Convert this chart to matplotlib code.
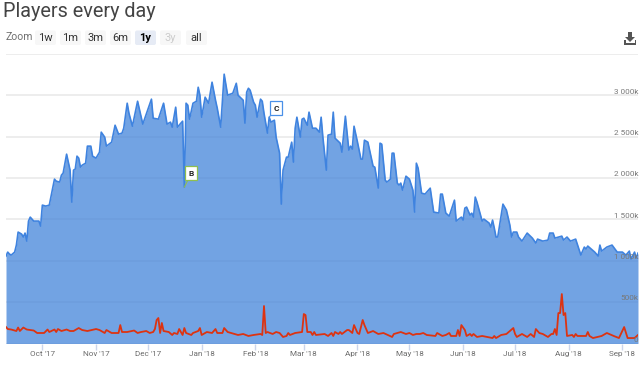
import datetime as dt

import matplotlib
matplotlib.use("Agg")
import matplotlib.pyplot as plt
import matplotlib.dates as mdates
from matplotlib.patches import FancyBboxPatch, Polygon, Rectangle

plt.rcParams["font.family"] = ["Roboto", "DejaVu Sans"]

START = dt.date(2017, 9, 10)

# days since START, players in thousands
players_days = [
    0, 1, 2, 3, 5, 6, 7, 9, 10, 11, 12, 13, 14, 16, 19, 20, 21, 23, 25, 28, 29, 31, 32, 33, 35, 37, 38, 39, 40, 41,
    42, 43, 44, 46, 47, 49, 50, 52, 54, 55, 57, 58, 61, 63, 65, 67, 68, 70, 71, 73, 76, 79, 84, 85, 88, 91, 93, 95, 96, 98,
    99, 102, 103, 104, 105, 106, 108, 110, 111, 112, 113, 115, 117, 119, 121, 122, 124, 126, 128, 131, 133, 134, 137, 138, 139, 140, 141, 143, 144, 145,
    147, 148, 149, 151, 152, 153, 155, 156, 158, 159, 160, 162, 163, 165, 166, 167, 168, 170, 171, 172, 174, 175, 177, 179, 181, 182, 183, 185, 186, 188,
    189, 190, 193, 194, 196, 198, 199, 200, 201, 203, 205, 206, 207, 209, 210, 212, 213, 215, 216, 217, 219, 220, 222, 223, 224, 226, 227, 228, 229, 231,
    233, 235, 236, 237, 238, 240, 242, 245, 247, 250, 251, 252, 254, 256, 259, 260, 263, 264, 265, 266, 268, 269, 270, 271, 272, 275, 276, 279, 280, 281,
    282, 283, 284, 287, 289, 291, 292, 293, 295, 296, 298, 301, 304, 306, 307, 310, 313, 314, 316, 317, 321, 322, 324, 326, 329, 332, 334, 335, 336, 340,
    342, 343, 344, 347, 350, 353, 356, 358, 360, 361, 363, 364, 365,
]
players_k = [
    1057, 1105, 1081, 1069, 1105, 1190, 1347, 1323, 1287, 1335, 1238, 1480, 1528, 1480, 1480, 1419, 1673, 1661, 1673, 1987, 1963, 1951, 2035, 2060, 2289, 2096, 1709, 2096, 2108, 2265,
    2241, 2132, 2156, 2180, 2386, 2386, 2265, 2241, 2313, 2555, 2495, 2386, 2434, 2639, 2531, 2543, 2603, 2905, 2785, 2627, 2929, 2652, 2954, 2724, 2712, 2905, 2652, 2676, 2615, 2857,
    2615, 2688, 1890, 2905, 2881, 2712, 2905, 2929, 3098, 3002, 2736, 2978, 2905, 3159, 2941, 2845, 2615, 3256, 3002, 3026, 3146, 3002, 2941, 2664, 3038, 3086, 3062, 2917, 2881, 2736,
    2954, 2929, 2784, 2543, 2736, 2676, 2700, 2495, 2301, 1685, 2096, 2253, 2253, 2434, 2193, 2603, 2736, 2495, 2712, 2724, 2639, 2797, 2603, 2603, 2555, 2736, 2495, 2096, 2519, 2531,
    2797, 2483, 2422, 2313, 2748, 2338, 2386, 2350, 2627, 2434, 2229, 2229, 2458, 2434, 2338, 2144, 2132, 1879, 2422, 2410, 1975, 1951, 1987, 2301, 2301, 1939, 1915, 1939, 1854, 2023,
    1987, 1854, 1589, 2180, 2120, 1818, 1806, 1878, 1589, 1577, 1806, 1806, 1577, 1540, 1733, 1480, 1528, 1492, 1637, 1649, 1552, 1576, 1528, 1770, 1709, 1480, 1504, 1456, 1407, 1492,
    1395, 1287, 1287, 1685, 1613, 1431, 1287, 1347, 1347, 1287, 1238, 1335, 1274, 1214, 1262, 1238, 1250, 1335, 1335, 1274, 1298, 1250, 1287, 1238, 1262, 1069, 1166, 1142, 1178, 1105,
    1057, 1190, 1117, 1166, 1190, 1105, 1105, 1069, 1117, 1021, 1105, 1033, 1093,
]

new_days = [
    0, 1, 3, 6, 7, 8, 10, 12, 16, 18, 22, 24, 25, 28, 29, 30, 32, 35, 37, 39, 42, 44, 47, 52, 54, 57, 58, 61, 65, 66,
    67, 70, 74, 76, 78, 81, 83, 85, 86, 87, 88, 89, 90, 91, 94, 96, 97, 99, 100, 102, 103, 104, 107, 108, 111, 112, 113, 116, 119, 121,
    122, 125, 126, 128, 130, 134, 137, 140, 143, 147, 148, 149, 150, 151, 154, 156, 158, 160, 162, 163, 164, 167, 171, 172, 173, 174, 176, 177, 178, 179,
    184, 186, 188, 189, 190, 192, 193, 194, 197, 198, 200, 201, 203, 204, 206, 207, 209, 212, 215, 218, 223, 224, 228, 231, 233, 235, 237, 239, 241, 243,
    248, 249, 252, 254, 256, 257, 260, 261, 262, 263, 265, 266, 268, 269, 270, 272, 275, 278, 281, 282, 283, 286, 289, 291, 293, 294, 295, 298, 301, 303,
    305, 306, 308, 310, 313, 315, 316, 317, 318, 319, 320, 321, 322, 323, 324, 327, 328, 329, 330, 335, 336, 337, 339, 344, 347, 351, 354, 357, 359, 363,
    365,
]
new_k = [
    199, 175, 169, 151, 193, 151, 193, 169, 157, 127, 127, 169, 139, 169, 139, 175, 151, 169, 151, 151, 187, 163, 151, 175, 163, 127, 163, 127, 127, 223,
    139, 139, 157, 127, 139, 151, 127, 139, 175, 284, 308, 127, 248, 151, 139, 103, 127, 115, 175, 103, 187, 127, 103, 127, 151, 187, 103, 139, 127, 175,
    127, 127, 187, 139, 127, 103, 115, 91, 103, 115, 103, 453, 127, 139, 115, 139, 127, 79, 91, 127, 103, 127, 139, 356, 344, 139, 139, 103, 139, 103,
    115, 91, 127, 91, 139, 115, 139, 115, 163, 163, 127, 223, 127, 115, 284, 223, 127, 151, 115, 127, 79, 115, 139, 115, 127, 103, 115, 115, 127, 103,
    91, 127, 91, 103, 127, 91, 91, 163, 91, 223, 163, 91, 115, 91, 115, 79, 91, 79, 66, 91, 66, 103, 115, 151, 187, 115, 79, 115, 79, 115,
    79, 175, 127, 115, 79, 115, 115, 175, 103, 368, 368, 598, 344, 368, 91, 103, 79, 115, 91, 91, 139, 91, 66, 91, 127, 91, 66, 199, 66, 66,
    103,
]

y_ticks = [0, 500, 1000, 1500, 2000, 2500, 3000, 3500]
y_labels = ["0", "500k", "1 000k", "1 500k", "2 000k", "2 500k", "3 000k", ""]
month_ticks = [dt.date(2017, 10, 1), dt.date(2017, 11, 1), dt.date(2017, 12, 1), dt.date(2018, 1, 1),
               dt.date(2018, 2, 1), dt.date(2018, 3, 1), dt.date(2018, 4, 1), dt.date(2018, 5, 1),
               dt.date(2018, 6, 1), dt.date(2018, 7, 1), dt.date(2018, 8, 1), dt.date(2018, 9, 1)]
month_labels = ["Oct '17", "Nov '17", "Dec '17", "Jan '18", "Feb '18", "Mar '18",
                "Apr '18", "May '18", "Jun '18", "Jul '18", "Aug '18", "Sep '18"]
zoom_labels = ["1w", "1m", "3m", "6m", "1y", "3y", "all"]


def to_dates(days):
    return [START + dt.timedelta(days=d) for d in days]


fig = plt.figure(figsize=(6.4, 3.68), dpi=100)
ax = fig.add_axes([6 / 640, (368 - 343.5) / 368, 632 / 640, (343.5 - 54) / 368])

ax.fill_between(to_dates(players_days), players_k, 0, color="#4384DA", alpha=0.75, linewidth=0, zorder=2)
ax.plot(to_dates(players_days), players_k, color="#3F83DF", linewidth=1.2, zorder=3)
ax.plot(to_dates(new_days), new_k, color="#DD3311", linewidth=1.3, zorder=4)

ax.set_xlim(START, START + dt.timedelta(days=365))
ax.set_ylim(0, 3500)

ax.set_yticks(y_ticks)
ax.set_yticklabels([])
ax.tick_params(axis="y", length=0)
ax.grid(axis="y", color="#E8E8E8", linewidth=1.1, zorder=1)
ax.set_axisbelow(True)
for v, lab in zip(y_ticks, y_labels):
    ax.annotate(lab, xy=(1, v), xycoords=ax.get_yaxis_transform(), xytext=(0, 0.6),
                textcoords="offset points", ha="right", va="bottom", fontsize=5.9, color="#787878", zorder=6)

ax.set_xticks(mdates.date2num(month_ticks))
ax.set_xticklabels(month_labels, fontsize=5.9, color="#6C6C6C")
ax.tick_params(axis="x", length=4, width=1, color="#CCD6EB", pad=1.5)
for side in ["top", "right", "left", "bottom"]:
    ax.spines[side].set_visible(False)

# flags
ax.annotate("B", xy=(START + dt.timedelta(days=103), 1890), xytext=(7, 14), textcoords="offset pixels",
            ha="center", va="center", fontsize=6, fontweight="bold", color="#222222", zorder=7,
            bbox=dict(boxstyle="square,pad=0.4", fc="white", ec="#8FBF4F", lw=0.9),
            arrowprops=dict(arrowstyle="-", color="#8FBF4F", lw=0.8, shrinkA=0, shrinkB=0))
ax.annotate("C", xy=(START + dt.timedelta(days=152), 2736), xytext=(7, 9), textcoords="offset pixels",
            ha="center", va="center", fontsize=6, fontweight="bold", color="#222222", zorder=7,
            bbox=dict(boxstyle="square,pad=0.4", fc="white", ec="#4A90E8", lw=0.9),
            arrowprops=dict(arrowstyle="-", color="#4A90E8", lw=0.8, shrinkA=0, shrinkB=0))

# overlay in pixels for the chart controls
ui = fig.add_axes([0, 0, 1, 1], zorder=10)
ui.set_xlim(0, 640)
ui.set_ylim(368, 0)
ui.axis("off")

ui.text(3, 11.5, "Players every day", fontsize=14.3, color="#444444", va="center", ha="left")
ui.text(6, 37.5, "Zoom", fontsize=7.5, color="#707070", va="center", ha="left")

button_x = [35, 60, 85, 110, 135, 160, 186]
for x, lab in zip(button_x, zoom_labels):
    selected = lab == "1y"
    disabled = lab == "3y"
    ui.add_patch(FancyBboxPatch((x, 30.5), 21, 14.5, boxstyle="round,pad=0,rounding_size=2", linewidth=0,
                                facecolor="#E6EBF5" if selected else "#F7F7F7"))
    ui.text(x + 10.5, 38, lab, fontsize=8, ha="center", va="center",
            color="#CCCCCC" if disabled else ("#000000" if selected else "#333333"),
            fontweight="bold" if selected else "normal")

# download icon
ui.add_patch(Polygon([(628, 32), (632, 32), (632, 37), (635, 37), (630, 42), (625, 37), (628, 37)],
                     closed=True, facecolor="#555555", edgecolor="none"))
ui.add_patch(Rectangle((624, 43), 12, 1.8, facecolor="#555555", edgecolor="none"))
ui.add_patch(Rectangle((624, 40), 1.5, 4, facecolor="#555555", edgecolor="none"))
ui.add_patch(Rectangle((634.5, 40), 1.5, 4, facecolor="#555555", edgecolor="none"))

fig.savefig("out.png", dpi=100)
plt.close(fig)
